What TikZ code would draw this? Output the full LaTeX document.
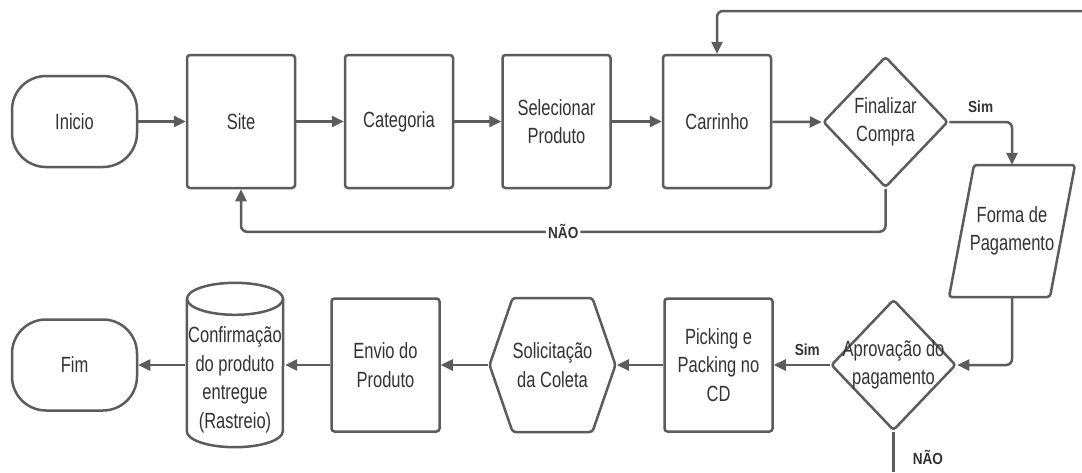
\documentclass[tikz,border=0pt]{standalone}
\usepackage{fontspec}
\setmainfont{Liberation Sans}[FakeStretch=0.75]
\newfontfamily\lblfont{Liberation Sans}[FakeStretch=0.85]
\usetikzlibrary{arrows.meta,shapes.geometric,shapes.misc,shapes.symbols}
\definecolor{linegray}{RGB}{92,92,92}
\definecolor{txtgray}{RGB}{51,51,51}

\begin{document}
\begin{tikzpicture}
[x=1pt,y=-1pt,>={Triangle[length=12pt,width=11pt]},
line/.style={draw=linegray,line width=2.5pt,rounded corners=6pt},
outline/.style={draw=linegray,line width=2.5pt},
txt/.style={text=txtgray,align=center,font=\fontsize{22}{28.5}\selectfont},
lbl/.style={text=txtgray,font=\lblfont\bfseries\fontsize{16}{18}\selectfont,inner sep=2pt},
shp/.style={outline,rounded corners=3pt,inner sep=0pt,txt},
box/.style={shp,rectangle,minimum width=108pt,minimum height=133pt},
term/.style={shp,rectangle,rounded corners=34pt,minimum width=125pt,minimum height=91pt},
decision/.style={shp,diamond,minimum width=125pt,minimum height=131pt},
plain/.style={rectangle,inner sep=0pt,txt},
]

%Frame
\path[use as bounding box,fill=white] (0,0) rectangle (1082,472);

%Top row
\node (inicio) at (74.5,121.5)[term] {Inicio};
\node (site) at (241,121.5)[box] {Site};
\node (cat) at (399,121.5)[box] {Categoria};
\node (sel) at (556.5,121.5)[box] {Selecionar\\Produto};
\node (carr) at (717,121.5)[box] {Carrinho};
\node (fin) at (885.5,122)[decision,label={[txt]center:Finalizar\\Compra}] {};

%Payment (parallelogram)
\node (forma) at (1012,231)[plain,minimum width=101pt,minimum height=132pt] {Forma de\\Pagamento};
\draw[outline,rounded corners=3pt] ([shift={(-63,66)}]forma.center) -- ([shift={(38,66)}]forma.center)
  -- ([shift={(63,-66)}]forma.center) -- ([shift={(-38,-66)}]forma.center) -- cycle;

%Bottom row
\node (apr) at (893.5,365)[decision,label={[txt]center:Aprova\c{c}\~ao do\\pagamento}] {};
\node (pick) at (718.5,365)[box] {Picking e\\Packing no\\CD};
\node (coleta) at (552.5,365)[shp,signal,signal to=west and east,signal pointer angle=142,
  minimum width=123pt,minimum height=134pt] {Solicita\c{c}\~ao\\da Coleta};
\node (envio) at (385.5,365)[box] {Envio do\\Produto};
\node (fim) at (74.5,365)[term] {Fim};

%Cylinder
\node (conf) at (235,365)[plain,minimum width=96pt,minimum height=132pt,
  label={[txt,yshift=-15pt]center:Confirma\c{c}\~ao\\do produto\\entregue\\(Rastreio)}] {};
\draw[outline] (conf.north west) -- (conf.south west) arc[start angle=180,end angle=0,x radius=48,y radius=16]
  -- (conf.north east);
\draw[outline] (conf.north) ellipse[x radius=48,y radius=16];

%Free ends
\coordinate (loopin) at (1082,11);
\coordinate (naoend) at (893.5,472);

%Connectors
\draw[line,->] (inicio) -- (site);
\draw[line,->] (site) -- (cat);
\draw[line,->] (cat) -- (sel);
\draw[line,->] (sel) -- (carr);
\draw[line,->] (carr) -- (fin.west);
\draw[line,->] (loopin) -| (carr.north);
\draw[line,->] (fin.east) -| node[lbl,pos=0.25,above=6pt] {Sim} (forma.north);
\draw[line,->] (fin.south) -- ++(0,43) -| node[lbl,pos=0.25,fill=white] {N\~AO} (site.south);
\draw[line,->] (forma.south) |- (apr.east);
\draw[line,->] (apr.west) -- node[lbl,pos=0.4,above=6pt] {Sim} (pick.east);
\draw[line] (apr.south) -- node[lbl,pos=0.65,right=16pt] {N\~AO} (naoend);
\draw[line,->] (pick.west) -- (coleta.east);
\draw[line,->] (coleta.west) -- (envio.east);
\draw[line,->] (envio.west) -- ([xshift=2pt]conf.east);
\draw[line,->] ([xshift=-2pt]conf.west) -- (fim.east);
\end{tikzpicture}
\end{document}
